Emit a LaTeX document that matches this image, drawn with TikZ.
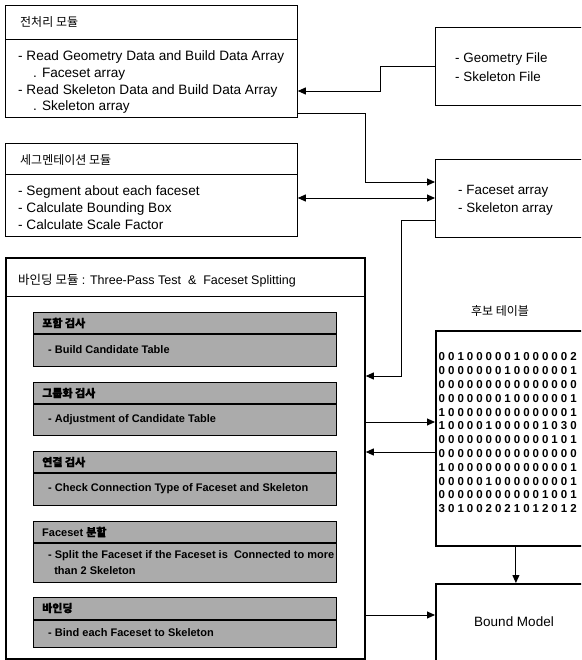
\documentclass[tikz,border=0pt]{standalone}
\usepackage{fontspec}
\setmainfont{Liberation Sans}
\newfontfamily\kor{Noto Sans CJK KR}
\newfontfamily\korb[FakeBold=1.5]{Noto Sans CJK KR}
\usetikzlibrary{arrows.meta}

\newcommand\digitrow[1]{\expandafter\dorow#1\relax}
\def\dorow#1{\ifx#1\relax\else\makebox[9.4pt]{#1}\expandafter\dorow\fi}

\tikzset{
  modbox/.style={draw, line width=0.8pt, anchor=north west, inner sep=0pt},
  bigbox/.style={draw, line width=1.8pt, anchor=north west, inner sep=0pt},
  passbox/.style={draw, line width=1.4pt, fill=black!33, anchor=north west, inner sep=0pt, minimum width=303pt},
  headtext/.style={anchor=west, inner sep=0pt, font=\fontsize{12}{14}\selectfont},
  bodytext/.style={anchor=west, inner sep=0pt, font=\fontsize{13.6}{16}\selectfont},
  sidetext/.style={anchor=west, inner sep=0pt, font=\fontsize{13.4}{16}\selectfont},
  passhead/.style={anchor=west, inner sep=0pt, font=\bfseries\fontsize{11}{13}\selectfont},
  passtext/.style={anchor=west, inner sep=0pt, font=\bfseries\fontsize{11}{13}\selectfont},
  digits/.style={anchor=west, inner sep=0pt, font=\bfseries\fontsize{11.5}{13}\selectfont},
  arr/.style={line width=0.9pt, -{Triangle[length=8pt,width=7pt]}},
  arrboth/.style={line width=0.9pt, {Triangle[length=8pt,width=7pt]}-{Triangle[length=8pt,width=7pt]}}
}

\begin{document}
\begin{tikzpicture}[x=1pt, y=-1pt]

\path[use as bounding box, clip] (0,0) rectangle (581,660);

% left column
\node[modbox, minimum width=292pt, minimum height=112pt] (pre) at (5,5) {};
\draw[line width=0.8pt] (5,39) -- (297,39);
\node[headtext] (preh) at (20,22) {\kor 전처리 모듈};
\node[bodytext] (pre1) at (18,57) {- Read Geometry Data and Build Data Array};
\node[bodytext] (pre2) at (33,74) {. Faceset array};
\node[bodytext] (pre3) at (18,91) {- Read Skeleton Data and Build Data Array};
\node[bodytext] (pre4) at (33,107) {. Skeleton array};

\node[modbox, minimum width=292pt, minimum height=93pt] (seg) at (5,143) {};
\draw[line width=0.8pt] (5,174) -- (297,174);
\node[headtext] (segh) at (20,160) {\kor 세그멘테이션 모듈};
\node[bodytext] (seg1) at (18,192) {- Segment about each faceset};
\node[bodytext] (seg2) at (18,209) {- Calculate Bounding Box};
\node[bodytext] (seg3) at (18,225) {- Calculate Scale Factor};

\node[bigbox, minimum width=359pt, minimum height=401pt] (bind) at (5,257) {};
\draw[line width=0.8pt] (5,296) -- (364,296);
\node[headtext, font=\fontsize{12.5}{14}\selectfont] (bindh) at (18,281) {{\kor 바인딩 모듈} : Three-Pass Test \ \& \ Faceset Splitting};

\node[passbox, minimum height=54pt] (pass1) at (33,312) {};
\draw[line width=1.4pt] (33,334) -- (336,334);
\node[passhead] (pass1h) at (42,323) {\korb 포함 검사};
\node[passtext] (pass1t) at (48,350) {- Build Candidate Table};

\node[passbox, minimum height=53pt] (pass2) at (33,382) {};
\draw[line width=1.4pt] (33,404) -- (336,404);
\node[passhead] (pass2h) at (42,393) {\korb 그룹화 검사};
\node[passtext] (pass2t) at (48,420) {- Adjustment of Candidate Table};

\node[passbox, minimum height=54pt] (pass3) at (33,451) {};
\draw[line width=1.4pt] (33,473) -- (336,473);
\node[passhead] (pass3h) at (42,462) {\korb 연결 검사};
\node[passtext] (pass3t) at (48,489) {- Check Connection Type of Faceset and Skeleton};

\node[passbox, minimum height=61pt] (pass4) at (33,521) {};
\draw[line width=1.4pt] (33,543) -- (336,543);
\node[passhead] (pass4h) at (42,532) {Faceset {\korb 분할}};
\node[passtext] (pass4t) at (48,556) {- Split the Faceset if the Faceset is \ Connected to more};
\node[passtext] (pass4u) at (48,571) {\ \ than 2 Skeleton};

\node[passbox, minimum height=50pt] (pass5) at (33,597) {};
\draw[line width=1.4pt] (33,620) -- (336,620);
\node[passhead] (pass5h) at (42,608) {\korb 바인딩};
\node[passtext] (pass5t) at (48,633) {- Bind each Faceset to Skeleton};

% right column
\node[modbox, minimum width=160pt, minimum height=78pt] (geo) at (435,27) {};
\node[sidetext] (geo1) at (455,59) {- Geometry File};
\node[sidetext] (geo2) at (455,77) {- Skeleton File};

\node[modbox, minimum width=160pt, minimum height=78pt] (fac) at (435,159) {};
\node[sidetext] (fac1) at (458,191) {- Faceset array};
\node[sidetext] (fac2) at (458,209) {- Skeleton array};

\node[headtext, anchor=center] (tabh) at (500,311) {\kor 후보 테이블};
\node[bigbox, minimum width=160pt, minimum height=215pt] (tab) at (435,330) {};
\foreach \row [count=\r] in {001000001000002,000000010000001,000000000000000,000000010000001,
    100000000000001,100001000001030,000000000000101,000000000000000,
    100000000000001,000001000000001,000000000001001,301002021012012}
  \node[digits] (row\r) at (437,343.2+13.8*\r) {\digitrow{\row}};

\node[bigbox, minimum width=160pt, minimum height=90pt] (bnd) at (435,583) {};
\node[anchor=center, inner sep=0pt, font=\fontsize{13.5}{15}\selectfont] (bndt) at (514,622) {Bound Model};

% connectors
\coordinate (gk) at (380,91);
\draw[arr] (geo.west) -| (gk) -- (pre.east |- gk);

\coordinate (pk) at (365,113);
\coordinate (fk1) at (0,182);
\draw[arr] (pre.east |- pk) -- (pk) |- (fac.west |- fk1);

\coordinate (sk) at (0,198);
\draw[arrboth] (seg.east |- sk) -- (fac.west |- sk);

\coordinate (fk2) at (401,220);
\coordinate (bk) at (0,376);
\draw[arr] (fac.west |- fk2) -- (fk2) |- (bind.east |- bk);

\coordinate (t1) at (0,422);
\coordinate (t2) at (0,452);
\coordinate (t3) at (0,615);
\draw[arr] (bind.east |- t1) -- (tab.west |- t1);
\draw[arr] (tab.west |- t2) -- (bind.east |- t2);
\draw[arr] (bind.east |- t3) -- (bnd.west |- t3);
\draw[arr] (tab.south) -- (bnd.north);

\end{tikzpicture}
\end{document}
